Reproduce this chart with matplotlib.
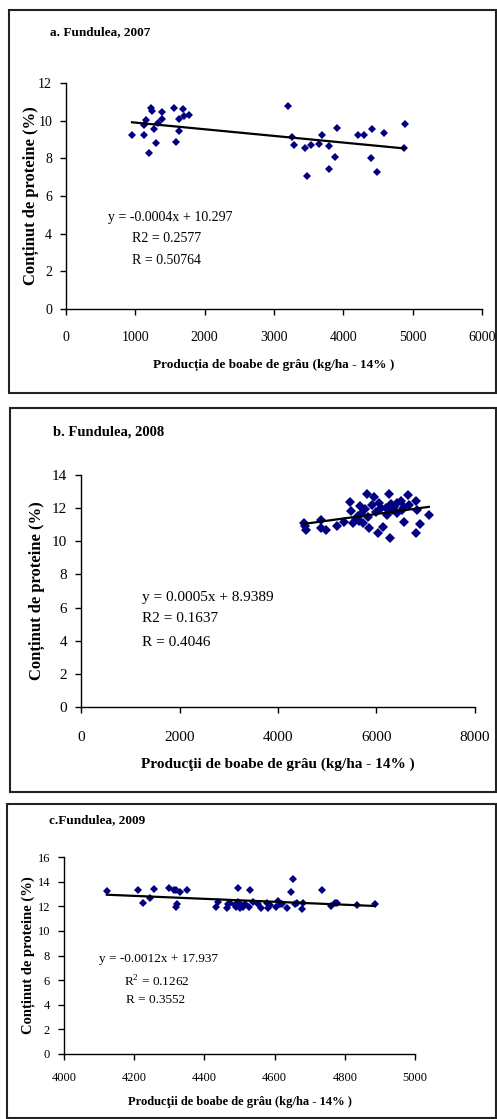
import matplotlib
matplotlib.use("Agg")
import matplotlib.pyplot as plt
from matplotlib.patches import Rectangle
import numpy as np

plt.rcParams['font.family'] = ['Liberation Serif', 'DejaVu Serif']
plt.rcParams['mathtext.fontset'] = 'custom'
plt.rcParams['mathtext.rm'] = 'Liberation Serif'

# a. Fundulea 2007
x07 = [952, 1121, 1121, 1150, 1203, 1232, 1246, 1275, 1304, 1328, 1386, 1386,
       1556, 1589, 1633, 1633, 1691, 1705, 1768,
       3203, 3261, 3285, 3454, 3469, 3531, 3647, 3686, 3787, 3787, 3874, 3903,
       4213, 4300, 4406, 4415, 4488, 4585, 4879, 4889]
y07 = [9.26, 9.22, 9.75, 10.05, 8.28, 10.69, 10.5, 9.54, 8.83, 9.88, 10.46, 10.1,
       10.67, 8.85, 9.45, 10.1, 10.6, 10.23, 10.32,
       10.78, 9.11, 8.72, 8.56, 7.04, 8.7, 8.76, 9.22, 8.63, 7.45, 8.07, 9.63,
       9.26, 9.26, 8.03, 9.54, 7.3, 9.34, 8.55, 9.82]

# b. Fundulea 2008
x08 = [4522, 4577, 4875, 4875, 4983, 5201, 5336, 5472, 5492, 5526, 5675, 5695,
       5730, 5797, 5824, 5845, 5946, 6000, 6027, 6048, 6136, 6183, 6217, 6244,
       6271, 6285, 6353, 6407, 6488, 6523, 6556, 6637, 6658, 6794, 6794, 6828,
       6882, 7064, 5580, 5640, 5760, 5900, 6100, 6420, 6560, 5620, 6320, 4540]
y08 = [11.12, 10.68, 11.28, 10.78, 10.68, 10.92, 11.14, 12.37, 11.84, 11.08, 12.13, 11.64,
       11.08, 12.85, 11.48, 10.78, 12.65, 11.78, 10.48, 12.33, 10.88, 11.99, 11.58, 12.85,
       10.18, 12.25, 12.08, 11.68, 12.45, 11.88, 11.18, 12.79, 12.19, 12.45, 10.51, 11.88,
       11.04, 11.58, 11.35, 11.25, 11.95, 12.2, 12.0, 12.3, 12.05, 11.5, 11.9, 10.9]

# c. Fundulea 2009
x09 = [4122, 4212, 4224, 4245, 4255, 4298, 4313, 4320, 4322, 4320, 4331, 4351,
       4433, 4438, 4463, 4468, 4474, 4487, 4497, 4496, 4491, 4501, 4504, 4510,
       4515, 4528, 4529, 4539, 4553, 4560, 4577, 4582, 4587, 4604, 4609, 4615,
       4622, 4636, 4648, 4651, 4658, 4665, 4678, 4680, 4734, 4761, 4772, 4779,
       4834, 4886]
y09 = [13.22, 13.3, 12.3, 12.68, 13.41, 13.49, 13.3, 13.3, 12.22, 11.95, 13.17, 13.3,
       11.95, 12.36, 11.82, 12.22, 12.28, 12.09, 13.46, 12.36, 11.95, 11.82, 12.09, 11.95,
       12.22, 11.95, 13.36, 12.36, 12.22, 11.87, 12.28, 11.87, 12.09, 11.95, 12.44, 12.22,
       12.22, 11.87, 13.17, 14.25, 12.22, 12.28, 11.74, 12.28, 13.36, 12.03, 12.28, 12.28,
       12.09, 12.22]

W, H = 497, 1119
fig = plt.figure(figsize=(W / 100, H / 100), dpi=100)


def fx(px):
    return px / W


def fy(py):
    return 1 - py / H


def box(x0, y0, x1, y1):
    r = Rectangle((fx(x0), fy(y1)), fx(x1 - x0), (y1 - y0) / H, transform=fig.transFigure,
                  fill=False, edgecolor='#222222', lw=1.5)
    fig.patches.append(r)


def panel(rect, xs, ys, xlim, xticks, ylim, yticks, fs, ms, xlabel, xl_fs, yl_fs,
          xpad, ylab_x, xlab_y):
    l, r, t, b = rect
    ax = fig.add_axes([fx(l), fy(b), fx(r - l), (b - t) / H])
    ax.plot(xs, ys, 'D', color='#000080', markersize=ms, markeredgewidth=0)
    k, c = np.polyfit(xs, ys, 1)
    xx = np.array([min(xs), max(xs)])
    ax.plot(xx, k * xx + c, color='black', lw=1.6)
    ax.set_xlim(*xlim)
    ax.set_ylim(*ylim)
    ax.set_xticks(xticks)
    ax.set_yticks(yticks)
    ax.spines['top'].set_visible(False)
    ax.spines['right'].set_visible(False)
    ax.tick_params(direction='out', length=4, width=1, labelsize=fs, pad=6)
    ax.tick_params(axis='x', pad=xpad)
    ax.set_xlabel(xlabel, fontsize=xl_fs, fontweight='bold')
    ax.set_ylabel('Conținut de proteine (%)', fontsize=yl_fs, fontweight='bold')
    # label centres given in pixels relative to the axes box
    ax.yaxis.set_label_coords(-(l - ylab_x) / (r - l), 0.5)
    ax.xaxis.set_label_coords(0.5, -(xlab_y - b) / (b - t))
    ax.xaxis.label.set_va('center')
    ax.yaxis.label.set_va('center')
    for s in ['left', 'bottom']:
        ax.spines[s].set_linewidth(1)
    return ax


# panel a
box(9, 10, 496, 393)
fig.text(fx(50), fy(32), 'a. Fundulea, 2007', fontsize=9.5, fontweight='bold', va='center')
panel((66, 482, 83, 309), x07, y07, (0, 6000), range(0, 6001, 1000), (0, 12), range(0, 13, 2),
      10, 4.2, 'Producția de boabe de grâu (kg/ha - 14% )', 9.5, 12, 12, 31, 365)
fig.text(fx(108), fy(217), 'y = -0.0004x + 10.297', fontsize=10, va='center')
fig.text(fx(132), fy(238), 'R2 = 0.2577', fontsize=10, va='center')
fig.text(fx(132), fy(261), 'R = 0.50764', fontsize=10, va='center')

# panel b
box(10, 408, 496, 792)
fig.text(fx(53), fy(432), 'b. Fundulea, 2008', fontsize=10.5, fontweight='bold', va='center')
panel((81, 475, 475, 707), x08, y08, (0, 8000), range(0, 8001, 2000), (0, 14), range(0, 15, 2),
      11, 4.8, 'Producţii de boabe de grâu (kg/ha - 14% )', 11, 12, 13, 37, 764)
fig.text(fx(142), fy(597), 'y = 0.0005x + 8.9389', fontsize=11, va='center')
fig.text(fx(142), fy(619), 'R2 = 0.1637', fontsize=11, va='center')
fig.text(fx(142), fy(642), 'R = 0.4046', fontsize=11, va='center')

# panel c
box(7, 804, 496, 1118)
fig.text(fx(49), fy(820), 'c.Fundulea, 2009', fontsize=9.5, fontweight='bold', va='center')
panel((64, 415, 857, 1054), x09, y09, (4000, 5000), range(4000, 5001, 200), (0, 16), range(0, 17, 2),
      9, 4.2, 'Producţii de boabe de grâu (kg/ha - 14% )', 9, 10.5, 9, 29, 1102)
fig.text(fx(99), fy(959), 'y = -0.0012x + 17.937', fontsize=9.5, va='center')
fig.text(fx(124), fy(982), 'R$^2$ = 0.1262', fontsize=9.5, va='center')
fig.text(fx(126), fy(1000), 'R = 0.3552', fontsize=9.5, va='center')

fig.savefig('out.png', dpi=100)
